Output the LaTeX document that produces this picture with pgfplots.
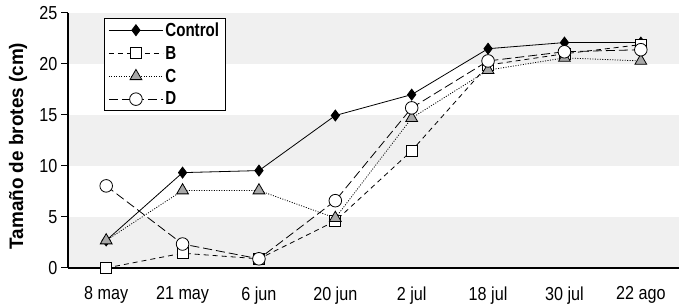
\documentclass[border=0pt]{standalone}
\usepackage{fontspec}
\usepackage{pgfplots}
\pgfplotsset{compat=1.18}
\setmainfont{Liberation Sans}
\newfontfamily\tickfont[FakeStretch=0.86]{Liberation Sans}
\newfontfamily\legfont[FakeStretch=0.8]{Liberation Sans}
\newfontfamily\labfont[FakeStretch=0.97]{Liberation Sans}
\definecolor{band}{HTML}{F0F0F0}
\definecolor{trig}{HTML}{A8A8A8}
\begin{document}
\begin{tikzpicture}
\begin{axis}[
  set layers,
  scale only axis,
  width=611pt, height=255pt,
  xmin=-0.5, xmax=7.5,
  ymin=0, ymax=25,
  axis x line*=bottom,
  axis y line*=left,
  axis line style={line width=1.5pt, -},
  xtick={0,...,7},
  xticklabels={8 may,21 may,6 jun,20 jun,2 jul,18 jul,30 jul,22 ago},
  minor xtick={0.5,1.5,...,6.5},
  xtick style={draw=none},
  minor x tick style={line width=1pt, black},
  minor tick length=6pt,
  ytick={0,5,...,25},
  ytick style={line width=1pt, black},
  major tick length=7pt,
  tick align=outside,
  /pgf/number format/assume math mode=true,
  tick label style={font=\tickfont\fontsize{18.8}{20}\selectfont},
  xticklabel style={yshift=-8pt},
  ylabel={Tamaño de brotes (cm)},
  ylabel style={at={(rel axis cs:0,0.478)}, anchor=center, yshift=50pt, xshift=0pt, font=\labfont\bfseries\fontsize{19.5}{21}\selectfont},
  legend style={at={(rel axis cs:0.059,0.98)}, anchor=north west, draw=black, line width=1pt, fill=white,
    font=\legfont\bfseries\fontsize{18.9}{20}\selectfont, row sep=4.3pt, inner xsep=4pt, inner ysep=2pt},
  legend cell align=left,
  legend image code/.code={\draw[mark repeat=2,mark phase=2,#1] plot coordinates {(0pt,0pt) (27pt,0pt) (54pt,0pt)};},
  clip=false,
]
\begin{pgfonlayer}{axis background}
\fill[band] (axis cs:-0.5,0) rectangle (axis cs:7.5,5);
\fill[band] (axis cs:-0.5,10) rectangle (axis cs:7.5,15);
\fill[band] (axis cs:-0.5,20) rectangle (axis cs:7.5,25);
\end{pgfonlayer}
\coordinate (bl) at (rel axis cs:0,0);
\coordinate (tr) at (rel axis cs:1,1);
\addplot[black, line width=0.8pt, mark=diamond*, mark size=5.5pt, mark options={solid, fill=black}]
  coordinates {(0,2.7) (1,9.35) (2,9.55) (3,14.95) (4,17.0) (5,21.5) (6,22.1) (7,22.1)};
\addlegendentry{Control}
\addplot[black, line width=0.8pt, dash pattern=on 5pt off 4pt, mark=square*, mark size=5.5pt, mark options={solid, fill=white}]
  coordinates {(0,0) (1,1.45) (2,0.9) (3,4.6) (4,11.5) (5,19.9) (6,21.0) (7,21.9)};
\addlegendentry{B}
\addplot[black, line width=0.8pt, dash pattern=on 1pt off 1.5pt, mark=triangle*, mark size=6.8pt, mark options={solid, fill=trig}]
  coordinates {(0,2.7) (1,7.6) (2,7.6) (3,4.9) (4,14.7) (5,19.4) (6,20.6) (7,20.3)};
\addlegendentry{C}
\addplot[black, line width=0.8pt, dash pattern=on 9pt off 4pt, mark=*, mark size=6.3pt, mark options={solid, fill=white}]
  coordinates {(0,8.05) (1,2.35) (2,0.9) (3,6.6) (4,15.7) (5,20.3) (6,21.2) (7,21.4)};
\addlegendentry{D}
\end{axis}
\pgfresetboundingbox
\path ([xshift=-68pt,yshift=-36pt]bl) rectangle ([yshift=13pt]tr);
\end{tikzpicture}
\end{document}
